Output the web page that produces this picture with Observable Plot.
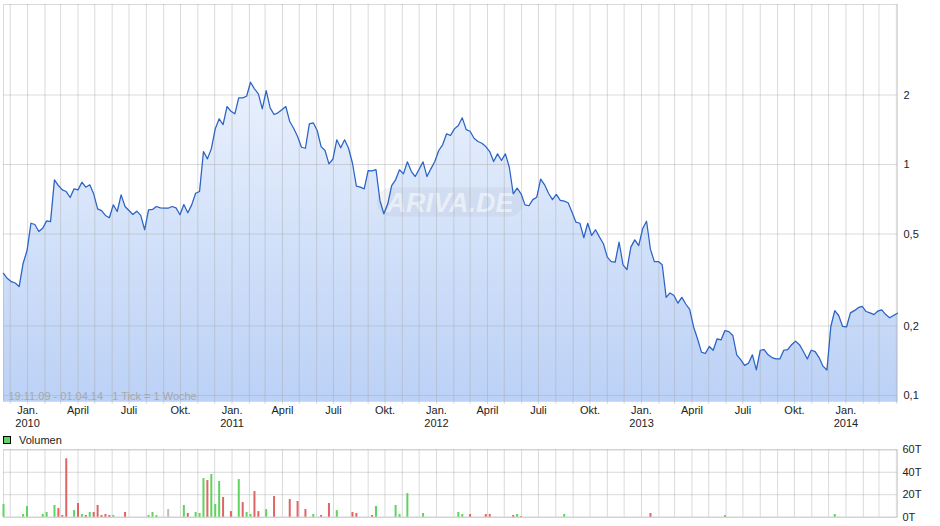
<!DOCTYPE html>
<html><head><meta charset="utf-8">
<script src="https://cdn.jsdelivr.net/npm/d3@7"></script>
<script src="https://cdn.jsdelivr.net/npm/@observablehq/plot@0.6"></script>
<style>
body{margin:0;background:#fff;font-family:"Liberation Sans",Arial,sans-serif;}
#wrap{position:relative;width:940px;height:526px;overflow:hidden;background:#fff;}
#main{position:absolute;left:0;top:0;}
#legend{position:absolute;left:3px;top:435px;height:10px;font-size:11px;color:#222;display:flex;align-items:center;}
#legend .sw{display:inline-block;width:6px;height:6px;background:#5fd35f;border:1px solid #000;margin-right:8px;}
#vol{position:absolute;left:0;top:437px;}
</style></head><body>
<div id="wrap"><div id="main"></div><div id="legend"><span class="sw"></span>Volumen</div><div id="vol"></div></div>
<script>
// ---- data ----
const startDate = "2009-11-19";   // first weekly quote
const endDate = "2014-04-03";     // end of axis
const rangeText = "19.11.09 - 01.04.14\u00a0\u00a0\u00a01 Tick = 1 Woche";
const watermarkText = "ARIVA.DE";
const legendLabel = "Volumen";
// weekly closing prices (1 Tick = 1 Woche)
const closeValues = [
0.338,0.321,0.311,0.307,0.296,0.373,0.424,0.557,0.550,0.513,
0.530,0.570,0.566,0.859,0.811,0.777,0.764,0.720,0.785,0.777,
0.838,0.798,0.817,0.747,0.643,0.632,0.602,0.588,0.669,0.626,
0.739,0.658,0.632,0.608,0.628,0.602,0.522,0.637,0.639,0.658,
0.649,0.647,0.647,0.658,0.649,0.606,0.671,0.618,0.669,0.751,
0.764,1.138,1.058,1.169,1.427,1.577,1.490,1.783,1.701,1.658,
1.944,1.944,1.975,2.272,2.127,2.024,1.742,2.091,1.760,1.646,
1.674,1.725,1.783,1.535,1.436,1.322,1.188,1.176,1.501,1.516,
1.404,1.196,1.150,1.007,1.054,1.279,1.181,1.279,1.176,1.013,
0.806,0.798,0.785,0.942,0.939,0.951,0.699,0.612,0.676,0.811,
0.859,0.949,0.911,1.027,0.935,0.887,0.954,1.027,0.887,0.958,
1.030,1.150,1.217,1.358,1.335,1.427,1.475,1.593,1.417,1.394,
1.300,1.258,1.236,1.196,1.138,1.030,1.112,1.041,1.112,0.973,
0.747,0.790,0.747,0.669,0.663,0.705,0.722,0.864,0.817,0.751,
0.705,0.742,0.699,0.694,0.683,0.622,0.563,0.557,0.482,0.557,
0.493,0.522,0.485,0.454,0.397,0.380,0.378,0.461,0.368,0.351,
0.439,0.472,0.446,0.527,0.568,0.429,0.380,0.380,0.368,0.266,
0.278,0.271,0.251,0.266,0.249,0.236,0.198,0.176,0.154,0.152,
0.163,0.157,0.176,0.174,0.191,0.189,0.182,0.150,0.143,0.135,
0.138,0.150,0.129,0.157,0.158,0.150,0.146,0.144,0.144,0.157,
0.158,0.166,0.172,0.166,0.155,0.144,0.157,0.155,0.146,0.134,
0.129,0.199,0.233,0.222,0.199,0.198,0.228,0.233,0.240,0.243,
0.231,0.228,0.224,0.232,0.235,0.224,0.217,0.222,0.227
];
// volume bars: week index, volume (thousands), direction
const volWeeks = [0,5,6,10,11,13,14,15,16,18,19,20,21,22,23,24,25,26,27,28,31,37,38,39,42,46,47,49,50,51,52,53,54,55,56,58,60,61,62,63,64,65,67,69,73,75,77,79,81,83,85,89,90,94,95,100,101,103,107,116,117,119,123,124,130,131,132,143,165,184,212];
const volValues = [11.3,2.4,9.5,2.4,4.2,10.4,7.7,1.5,52,5.9,12.2,2.4,1.5,4.2,4.2,10.4,1.5,2.4,1.5,1.5,4.2,1.5,4.2,1.5,6.8,10.4,3.3,4.2,3.3,34.4,32.6,38,11.3,31.8,17.5,5,33.5,13,4.2,2.4,22.8,5,6.8,18.4,15.7,14,6.8,2.4,1.5,12.2,5.9,4.2,3.3,1.5,9.5,10.4,2.4,21,3.3,4.2,2.4,2.4,2.4,2.4,1.5,2.4,0.6,2.4,3.3,1.5,2.4];
const volDirection = ["up","up","up","up","up","up","down","down","down","up","down","up","down","up","down","down","down","down","down","up","down","up","up","up","flat","up","down","up","up","up","down","up","up","up","down","down","up","down","up","up","down","down","up","down","down","down","down","up","down","down","up","down","down","down","up","up","up","up","up","up","up","down","down","down","down","up","down","up","down","up","up"];
const yTicks = [0.1, 0.2, 0.5, 1, 2];
const volTicks = [0, 20, 40, 60];
const monthLabels = {0: "Jan.", 3: "April", 6: "Juli", 9: "Okt."};
const yDomain = [0.0942, 4.93];
const volDomain = [0, 60];

// ---- build ----
const start = new Date(startDate + "T00:00:00Z");
const end = new Date(endDate + "T00:00:00Z");
const price = closeValues.map((v, i) => ({date: d3.utcDay.offset(start, 7 * i), value: v}));
const vol = volWeeks.map((w, i) => ({date: d3.utcDay.offset(start, 7 * w), value: volValues[i], dir: volDirection[i]}));
const months = d3.utcMonth.range(d3.utcMonth.ceil(start), end);
const quarters = months.filter(d => d.getUTCMonth() % 3 === 0 && d < d3.utcDay.offset(end, -30));
const dirColor = {up: "#5fd35f", down: "#e06464", flat: "#bcbcbc"};
const gridStroke = "#a8a8a8", gridOpacity = 0.42;
const font = "Liberation Sans, Arial, sans-serif";

function watermark() {
  const dims = [...arguments].find(a => a && a.marginLeft !== undefined && a.width !== undefined);
  const ns = "http://www.w3.org/2000/svg";
  const cx = (dims.marginLeft + dims.width - dims.marginRight) / 2;
  const cy = (dims.marginTop + dims.height - dims.marginBottom) / 2;
  const g = document.createElementNS(ns, "g");
  const r = document.createElementNS(ns, "rect");
  r.setAttribute("x", cx - 73); r.setAttribute("y", cy - 15);
  r.setAttribute("width", 146); r.setAttribute("height", 29);
  r.setAttribute("rx", 14); r.setAttribute("fill", "#98a2b2"); r.setAttribute("fill-opacity", 0.13);
  const t = document.createElementNS(ns, "text");
  t.setAttribute("x", cx); t.setAttribute("y", cy + 9.5);
  t.setAttribute("text-anchor", "middle");
  t.setAttribute("font-size", 27); t.setAttribute("font-style", "italic"); t.setAttribute("font-weight", "bold");
  t.setAttribute("font-family", font);
  t.setAttribute("fill", "#ffffff"); t.setAttribute("fill-opacity", 0.55);
  t.textContent = watermarkText;
  g.appendChild(r); g.appendChild(t);
  return g;
}

const main = Plot.plot({
  width: 940, height: 432,
  marginLeft: 3, marginRight: 43, marginTop: 4, marginBottom: 31,
  style: {fontFamily: font, fontSize: "11px", background: "transparent", color: "#222"},
  x: {type: "utc", domain: [start, end]},
  y: {type: "log", domain: yDomain},
  marks: [
    Plot.areaY(price, {x: "date", y1: yDomain[0], y2: "value", fill: "url(#priceGrad)"}),
    watermark,
    Plot.ruleX(months, {stroke: gridStroke, strokeOpacity: gridOpacity, insetBottom: -3}),
    Plot.ruleY(yTicks, {stroke: gridStroke, strokeOpacity: gridOpacity}),
    Plot.frame({stroke: gridStroke, strokeOpacity: gridOpacity}),
    Plot.lineY(price, {x: "date", y: "value", stroke: "#2b63c5", strokeWidth: 1.25}),
    Plot.text([rangeText], {frameAnchor: "bottom-left", dx: 5, dy: -2, fill: "#a9a9a9", fontSize: 11}),
    Plot.axisX({ticks: quarters, tickSize: 0, tickPadding: 3, fontSize: 11, lineHeight: 1.18, fill: "#222", label: null,
      tickFormat: d => d.getUTCMonth() === 0 ? `${monthLabels[0]}\n${d.getUTCFullYear()}` : monthLabels[d.getUTCMonth()]}),
    Plot.axisY({ticks: yTicks, anchor: "right", tickSize: 0, tickPadding: 6, fontSize: 11, fill: "#222", label: null,
      tickFormat: d => String(d).replace(".", ",")})
  ]
});
{
  const ys = main.scale("y").range;
  const ns = "http://www.w3.org/2000/svg";
  const defs = document.createElementNS(ns, "defs");
  defs.innerHTML = `<linearGradient id="priceGrad" gradientUnits="userSpaceOnUse" x1="0" y1="${Math.min(...ys)}" x2="0" y2="${Math.max(...ys)}"><stop offset="0" stop-color="#f4f8fe"/><stop offset="1" stop-color="#bbd1f6"/></linearGradient>`;
  main.insertBefore(defs, main.firstChild);
}
document.getElementById("main").appendChild(main);

const volPlot = Plot.plot({
  width: 940, height: 89,
  marginLeft: 3, marginRight: 43, marginTop: 12.3, marginBottom: 9.3,
  style: {fontFamily: font, fontSize: "11px", background: "transparent", color: "#222"},
  x: {type: "utc", domain: [start, end]},
  y: {domain: volDomain},
  marks: [
    Plot.ruleX(months, {stroke: gridStroke, strokeOpacity: gridOpacity}),
    Plot.ruleY(volTicks, {stroke: gridStroke, strokeOpacity: gridOpacity}),
    Plot.frame({stroke: gridStroke, strokeOpacity: gridOpacity}),
    Plot.ruleX(vol, {x: "date", y1: 0, y2: "value", stroke: d => dirColor[d.dir], strokeWidth: 2}),
    Plot.axisX({ticks: [], label: null}),
    Plot.axisY({ticks: volTicks, anchor: "right", tickSize: 0, tickPadding: 5, fontSize: 11, fill: "#222",
      tickFormat: d => d + "T", label: null})
  ]
});
document.getElementById("vol").appendChild(volPlot);
document.querySelector("#legend .sw").style.background = dirColor.up;
</script>
</body></html>
